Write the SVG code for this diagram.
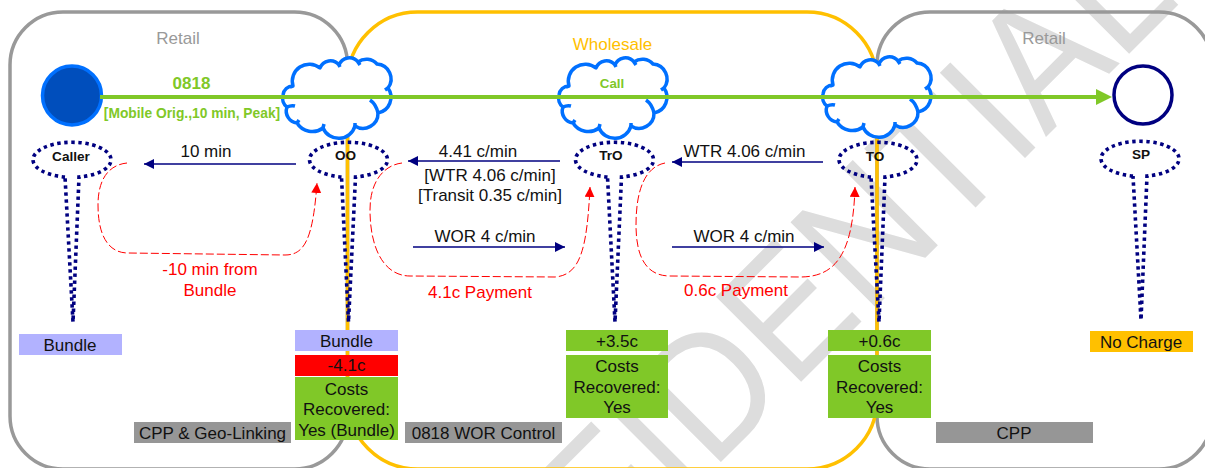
<svg xmlns="http://www.w3.org/2000/svg" width="1205" height="468" viewBox="0 0 1205 468">
<style>
text{font-family:"Liberation Sans",Arial,sans-serif;font-size:17px;text-anchor:middle;fill:#111}
.wm{font-size:175px;fill:#ddd;text-anchor:end}
.zone{fill:none;stroke-width:3.5}
.cl{fill:#fff;stroke:#0070ff;stroke-width:3.5;stroke-linejoin:round}
.tick{fill:none;stroke:#0070ff;stroke-width:3.5}
.pin{fill:none;stroke:#000080;stroke-width:3.6;stroke-dasharray:3.4 3.6}
.nv{stroke:#000080;stroke-width:1.5;fill:none;marker-end:url(#an)}
.rd{stroke:#f00;stroke-width:1;fill:none;stroke-dasharray:8 3;marker-end:url(#ar)}
.b{font-weight:bold;font-size:13.6px}
.g{fill:#80c828}
.red{fill:#f00}
.gray{fill:#969696}
.lav{fill:#b2b2ff}
</style>
<defs>
<marker id="an" markerUnits="userSpaceOnUse" markerWidth="11" markerHeight="11" refX="10" refY="5" orient="auto"><path d="M0,0L10,5L0,10Z" fill="#000080"/></marker>
<marker id="ar" markerUnits="userSpaceOnUse" markerWidth="11" markerHeight="11" refX="10" refY="5" orient="auto"><path d="M0,0L10,5L0,10Z" fill="#f00"/></marker>
<marker id="ag" markerUnits="userSpaceOnUse" markerWidth="17" markerHeight="16" refX="16" refY="8" orient="auto"><path d="M0,0L16,8L0,16Z" fill="#80c828"/></marker>
<g id="cloud">
<path class="cl" d="M283,95A10,10 0 0 1 293,86A17,17 0 0 1 320,68A11,11 0 0 1 339,65A11,11 0 0 1 358,62A14,14 0 0 1 377,64A15,15 0 0 1 388,88A16,16 0 0 1 378,113A15,15 0 0 1 355,126A17,17 0 0 1 323,128A18,18 0 0 1 297,123A12,12 0 0 1 287,107A11,11 0 0 1 283,95Z"/>
<path class="tick" d="M293,86L290,87M320,68L318,66M339,65L340,67M358,62L360,65M388,88L385,90M378,113Q376,104 370,100M355,126L355,123M323,128L324,124M297,123L299,120M287,107Q291,105 295,106"/>
</g>
</defs>
<g id="watermark"><text class="wm" transform="translate(1182,1) rotate(-45) scale(.9,1)">CONFIDENTIAL</text></g>
<g id="zones">
<rect id="retail-left" class="zone" x="10" y="12" width="337.5" height="457" rx="53" stroke="#999"/>
<rect id="retail-right" class="zone" x="877" y="12" width="335" height="457" rx="53" stroke="#999"/>
<rect id="wholesale" class="zone" x="347.5" y="12" width="529.5" height="457" rx="70" stroke="#ffc000"/>
<text x="178" y="44" style="fill:#999">Retail</text>
<text x="1044" y="44" style="fill:#999">Retail</text>
<text x="612.5" y="50" style="fill:#ffc000">Wholesale</text>
</g>
<g id="node-caller-pin"><path class="pin" d="M65,177A39,17.5 0 1 1 79,177L73,322L65,177"/><text class="b" x="71" y="161">Caller</text></g>
<g id="node-oo-pin"><path class="pin" d="M341.5,177A39,17.5 0 1 1 355.5,177L348.5,322L341.5,177"/></g>
<g id="node-tro-pin"><path class="pin" d="M607.5,177A39,17.5 0 1 1 621.5,177L615,322L607.5,177"/><text class="b" x="611" y="160">TrO</text></g>
<g id="node-to-pin"><path class="pin" d="M871,177A39,17.5 0 1 1 885,177L879,322L871,177"/></g>
<g id="node-sp-pin"><path class="pin" d="M1133,176A39,17.5 0 1 1 1147,176L1141,320L1133,176"/><text class="b" x="1141" y="159">SP</text></g>
<g id="node-oo-cloud"><use href="#cloud"/></g>
<g id="node-call-cloud"><use href="#cloud" x="276"/></g>
<g id="node-to-cloud"><use href="#cloud" x="540" y="-1"/></g>
<g id="node-caller"><circle cx="72" cy="95.5" r="29.5" fill="#004ebc" stroke="#0070ff" stroke-width="3.5"/></g>
<g id="node-sp"><circle cx="1143" cy="95" r="29" fill="#fff" stroke="#000080" stroke-width="3.5"/></g>
<g id="connectors">
<path d="M100,97H1100" stroke="#80c828" stroke-width="4" fill="none"/>
<path d="M1096,89L1112,97L1096,105Z" fill="#80c828"/>
<path class="nv" d="M296,164H144"/>
<path class="nv" d="M560,161H408"/>
<path class="nv" d="M823,162H672"/>
<path class="nv" d="M413,247H565"/>
<path class="nv" d="M672,247H824"/>
<path class="rd" d="M127,163C108,165 98,180 98,205C98,235 108,253 128,253L285,255C305,255 313,238 317,183"/>
<path class="rd" d="M402,163C385,165 370,180 370,210C370,250 385,276 410,276L555,277C580,275 587,250 590,187"/>
<path class="rd" d="M665,163C645,167 636,190 636,225C636,255 645,276 670,276L800,277C835,277 853,255 855,187"/>
</g>
<g id="labels">
<text x="191.5" y="89" style="fill:#80c828;font-weight:bold;font-size:17px">0818</text>
<text x="192" y="118" style="fill:#80c828;font-weight:bold;font-size:13.8px">[Mobile Orig.,10 min, Peak]</text>
<text x="612" y="88" style="fill:#80c828;font-weight:bold;font-size:13.3px">Call</text>
<text class="b" x="345.5" y="160">OO</text>
<text class="b" x="875" y="161">TO</text>
<text x="206" y="157">10 min</text>
<text x="478" y="157">4.41 c/min</text>
<text x="490" y="181">[WTR 4.06 c/min]</text>
<text x="490" y="201">[Transit 0.35 c/min]</text>
<text x="744.5" y="157">WTR 4.06 c/min</text>
<text x="485" y="242">WOR 4 c/min</text>
<text x="744" y="242">WOR 4 c/min</text>
<text x="210" y="275" style="fill:#f00">-10 min from</text>
<text x="210" y="295.5" style="fill:#f00">Bundle</text>
<text x="480" y="298" style="fill:#f00">4.1c Payment</text>
<text x="736" y="296" style="fill:#f00">0.6c Payment</text>
</g>
<g id="node-caller-charge"><rect class="lav" x="19" y="334" width="103" height="21"/><text x="70" y="351">Bundle</text></g>
<g id="node-oo-charge">
<rect class="lav" x="295" y="330" width="103" height="21"/><text x="346.5" y="346.5">Bundle</text>
<rect class="red" x="295" y="355" width="103" height="21"/><text x="346.5" y="371">-4.1c</text>
<rect class="g" x="295" y="377" width="103" height="63"/><text x="346.5" y="394.5">Costs</text><text x="346.5" y="415">Recovered:</text><text x="346.5" y="435.5">Yes (Bundle)</text>
</g>
<g id="node-tro-charge">
<rect class="g" x="566" y="330" width="102" height="21"/><text x="617" y="347">+3.5c</text>
<rect class="g" x="566" y="355" width="102" height="63"/><text x="617" y="372">Costs</text><text x="617" y="393">Recovered:</text><text x="617" y="413">Yes</text>
</g>
<g id="node-to-charge">
<rect class="g" x="828" y="330" width="103" height="21"/><text x="879.5" y="347">+0.6c</text>
<rect class="g" x="828" y="355" width="103" height="63"/><text x="879.5" y="372">Costs</text><text x="879.5" y="393">Recovered:</text><text x="879.5" y="413">Yes</text>
</g>
<g id="node-sp-charge"><rect x="1090" y="331" width="103" height="21" fill="#ffc000"/><text x="1141" y="348">No Charge</text></g>
<g id="node-cpp-geo"><rect class="gray" x="134" y="422" width="157" height="21"/><text x="212.5" y="439">CPP &amp; Geo-Linking</text></g>
<g id="node-wor-control"><rect class="gray" x="405" y="422" width="157" height="21"/><text x="483.5" y="439">0818 WOR Control</text></g>
<g id="node-cpp"><rect class="gray" x="936" y="422" width="157" height="21"/><text x="1014" y="439">CPP</text></g>
</svg>
